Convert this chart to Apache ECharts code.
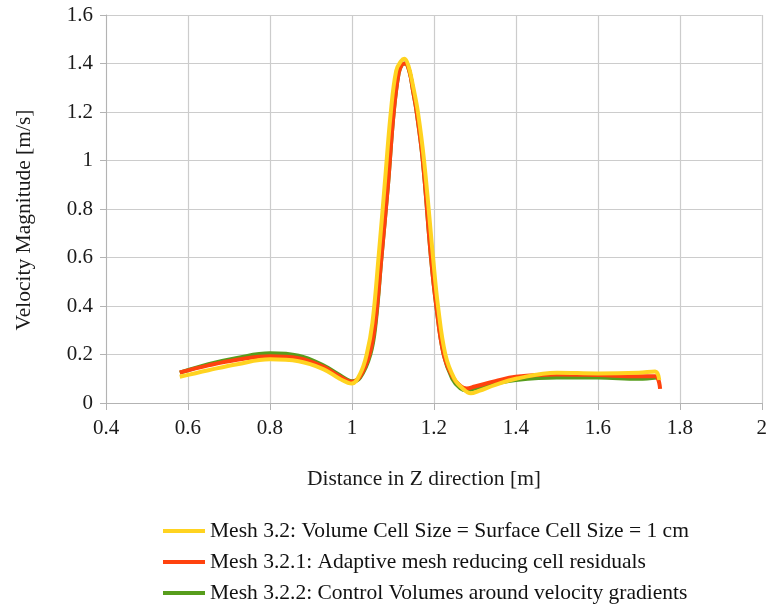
<!DOCTYPE html>
<html><head><meta charset="utf-8">
<script src="https://cdn.jsdelivr.net/npm/echarts@6/dist/echarts.min.js"></script>
<style>html,body{margin:0;padding:0;background:#fff}#c{width:770px;height:604px}</style>
</head><body><div id="c"></div>
<script>
const seriesNames = [
  'Mesh 3.2: Volume Cell Size = Surface Cell Size = 1 cm',
  'Mesh 3.2.1: Adaptive mesh reducing cell residuals',
  'Mesh 3.2.2: Control Volumes around velocity gradients'
];
const zYellow = [0.58,0.65,0.72,0.80,0.87,0.93,0.97,1.00,1.02,1.036,1.05,1.065,1.08,1.095,1.108,1.12,1.128,1.138,1.15,1.161,1.176,1.198,1.21,1.228,1.25,1.27,1.29,1.31,1.35,1.40,1.50,1.60,1.70,1.74,1.75];
const vYellow = [0.108,0.135,0.160,0.180,0.172,0.140,0.100,0.080,0.120,0.20,0.33,0.60,0.90,1.20,1.37,1.41,1.42,1.39,1.30,1.20,1.00,0.60,0.40,0.20,0.10,0.06,0.04,0.05,0.075,0.100,0.125,0.122,0.125,0.130,0.095];
const zRed = [0.58,0.65,0.72,0.80,0.87,0.93,0.97,1.00,1.02,1.043,1.057,1.072,1.088,1.102,1.114,1.122,1.130,1.140,1.150,1.158,1.173,1.193,1.206,1.224,1.245,1.265,1.28,1.30,1.35,1.40,1.50,1.60,1.70,1.74,1.752];
const vRed = [0.126,0.155,0.178,0.193,0.185,0.150,0.110,0.088,0.110,0.20,0.33,0.60,0.90,1.20,1.36,1.395,1.40,1.37,1.28,1.20,1.00,0.60,0.40,0.20,0.11,0.07,0.06,0.068,0.090,0.108,0.118,0.115,0.110,0.110,0.058];
const zGreen = [0.58,0.65,0.72,0.80,0.87,0.93,0.97,1.00,1.02,1.045,1.058,1.072,1.088,1.102,1.114,1.122,1.130,1.140,1.150,1.158,1.173,1.193,1.206,1.224,1.245,1.265,1.28,1.30,1.35,1.40,1.50,1.60,1.70,1.745];
const vGreen = [0.125,0.160,0.186,0.205,0.195,0.155,0.115,0.090,0.105,0.20,0.33,0.60,0.90,1.20,1.36,1.395,1.40,1.37,1.28,1.20,1.00,0.60,0.40,0.20,0.10,0.06,0.052,0.060,0.080,0.095,0.105,0.105,0.100,0.105];
const colors = ['#FFD320','#FF420E','#579D1C'];
const xTitle = 'Distance in Z direction [m]';
const yTitle = 'Velocity Magnitude [m/s]';

const zip = (a,b) => a.map((x,i)=>[x,b[i]]);
const font = 'Liberation Serif';
const chart = echarts.init(document.getElementById('c'), null, {renderer:'canvas'});
chart.setOption({
  animation:false,
  backgroundColor:'#fff',
  grid:{left:106,right:5,top:15,bottom:201,containLabel:false},
  xAxis:{type:'value',min:0.4,max:2,interval:0.2,
    axisLine:{lineStyle:{color:'#b3b3b3',width:1}},
    axisTick:{show:true,length:7,lineStyle:{color:'#b3b3b3'}},
    splitLine:{show:true,lineStyle:{color:'#cccccc',width:1.2}},
    axisLabel:{margin:15,color:'#1a1a1a',fontFamily:font,fontSize:21,formatter:v=>String(+v.toFixed(1))}},
  yAxis:{type:'value',min:0,max:1.6,interval:0.2,
    axisLine:{show:true,lineStyle:{color:'#b3b3b3',width:1}},
    axisTick:{show:true,length:6,lineStyle:{color:'#b3b3b3'}},
    splitLine:{show:true,lineStyle:{color:'#cccccc',width:1.2}},
    axisLabel:{margin:13,color:'#1a1a1a',fontFamily:font,fontSize:21,formatter:v=>String(+v.toFixed(1))}},
  graphic:[
    {type:'text',x:424,y:479,style:{text:xTitle,font:'21.5px "Liberation Serif"',fill:'#1a1a1a',align:'center',verticalAlign:'middle'}},
    {type:'text',x:24,y:220,rotation:Math.PI/2,style:{text:yTitle,font:'21.5px "Liberation Serif"',fill:'#1a1a1a',align:'center',verticalAlign:'middle'}}
  ],
  legend:{orient:'vertical',left:163,top:520,height:84,padding:0,itemWidth:42,itemHeight:4,itemGap:9,icon:'rect',
    textStyle:{fontFamily:font,fontSize:21.5,color:'#111'},data:seriesNames},
  series:[
    {name:seriesNames[0],type:'line',smooth:0.4,showSymbol:false,z:5,lineStyle:{width:4,color:colors[0]},itemStyle:{color:colors[0]},data:zip(zYellow,vYellow)},
    {name:seriesNames[1],type:'line',smooth:0.4,showSymbol:false,z:4,lineStyle:{width:4,color:colors[1]},itemStyle:{color:colors[1]},data:zip(zRed,vRed)},
    {name:seriesNames[2],type:'line',smooth:0.4,showSymbol:false,z:3,lineStyle:{width:4,color:colors[2]},itemStyle:{color:colors[2]},data:zip(zGreen,vGreen)}
  ]
});
</script></body></html>
